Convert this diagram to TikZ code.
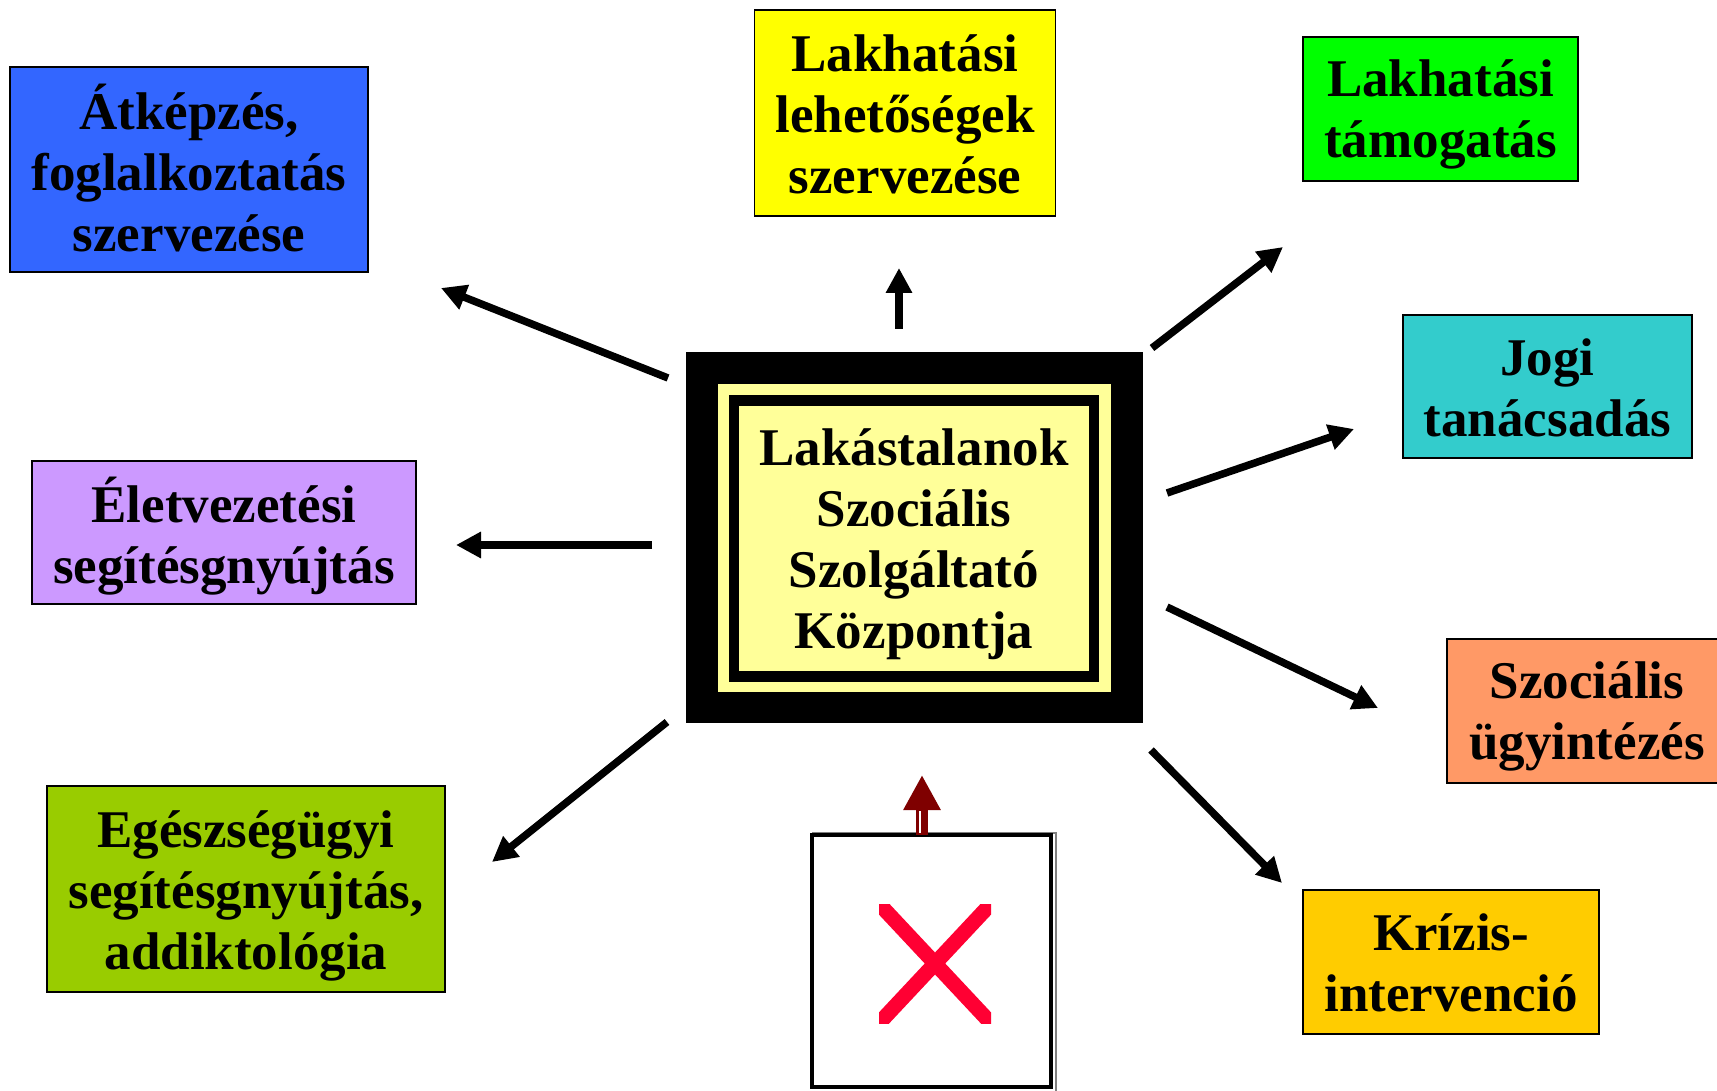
\documentclass[tikz,border=0pt]{standalone}
\usepackage{fontspec}
\setmainfont{Liberation Serif}
\usetikzlibrary{arrows.meta}

\definecolor{cblue}{HTML}{3366FF}
\definecolor{cyellow}{HTML}{FFFF00}
\definecolor{cgreen}{HTML}{00FF00}
\definecolor{ccyan}{HTML}{33CCCC}
\definecolor{corange}{HTML}{FF9966}
\definecolor{cgold}{HTML}{FFCC00}
\definecolor{colive}{HTML}{99CC00}
\definecolor{cviolet}{HTML}{CC99FF}
\definecolor{hubyellow}{HTML}{FFFF99}
\definecolor{xred}{HTML}{FF0033}
\definecolor{darkred}{HTML}{7F0000}

\tikzset{
  infobox/.style={draw=black, line width=1.5pt, inner sep=0pt},
  label text/.style={inner sep=0pt, align=center,
    font=\fontsize{53}{61}\selectfont\bfseries},
  frame/.style={inner sep=0pt},
  arr/.style={line width=7.5pt, -{Triangle[length=25pt,width=25pt]}},
}

\begin{document}
\begin{tikzpicture}[x=1pt,y=-1pt]
\useasboundingbox (0,0) rectangle (1717,1091);
\clip (0,0) rectangle (1717,1091);
\fill[white] (0,0) rectangle (1717,1091);

% central service centre with its double frame
\node[frame, fill=black, minimum width=457pt, minimum height=371pt] (hubout) at (914.5,537.5) {};
\node[frame, fill=hubyellow, minimum width=393pt, minimum height=308pt] (hubband) at (914.5,538) {};
\node[frame, fill=black, minimum width=370pt, minimum height=287pt] (hubline) at (914,538.5) {};
\node[frame, fill=hubyellow, minimum width=350pt, minimum height=265pt] (hub) at (914,538.5) {};
\node[label text] at ([yshift=-6pt]hub.center) {Lakástalanok\\Szociális\\Szolgáltató\\Központja};

% service boxes
\node[infobox, fill=cblue, minimum width=358pt, minimum height=205pt] (retrain) at (189,169.5) {};
\node[label text] at ([yshift=1.5pt]retrain.center) {Átképzés,\\foglalkoztatás\\szervezése};

\node[infobox, fill=cyellow, minimum width=301pt, minimum height=206pt] (housing) at (905,113) {};
\node[label text] at ([yshift=-1.6pt]housing.center) {Lakhatási\\lehetőségek\\szervezése};

\node[infobox, fill=cgreen, minimum width=275pt, minimum height=144pt] (support) at (1440.5,109) {};
\node[label text] at ([yshift=-5.5pt]support.center) {Lakhatási\\támogatás};

\node[infobox, fill=ccyan, minimum width=289pt, minimum height=143pt] (legal) at (1547.5,386.5) {};
\node[label text] at ([yshift=-1.6pt]legal.center) {Jogi\\tanácsadás};

\node[infobox, fill=corange, minimum width=280pt, minimum height=144pt] (social) at (1587,711) {};
\node[label text] at ([yshift=-5.5pt]social.center) {Szociális\\ügyintézés};

\node[infobox, fill=cgold, minimum width=296pt, minimum height=144pt] (crisis) at (1451,962) {};
\node[label text] at ([yshift=-0.5pt]crisis.center) {Krízis-\\intervenció};

\node[infobox, fill=colive, minimum width=398pt, minimum height=206pt] (health) at (246,889) {};
\node[label text] at ([yshift=-6.5pt]health.center) {Egészségügyi\\segítésgnyújtás,\\addiktológia};

\node[infobox, fill=cviolet, minimum width=384pt, minimum height=143pt] (life) at (224,532.5) {};
\node[label text] at ([yshift=-3.3pt]life.center) {Életvezetési\\segítésgnyújtás};

% arrow end points
\coordinate (s1) at (668,378);  \coordinate (e1) at (441,288);
\coordinate (s2) at (652,545);  \coordinate (e2) at (456,545);
\coordinate (s3) at (667,722);  \coordinate (e3) at (492,862);
\coordinate (s4) at (899,329);  \coordinate (e4) at (899,268);
\coordinate (s5) at (1152,348); \coordinate (e5) at (1283,247);
\coordinate (s6) at (1167,493); \coordinate (e6) at (1354,429);
\coordinate (s7) at (1167,607); \coordinate (e7) at (1378,708);
\coordinate (s8) at (1151,750); \coordinate (e8) at (1282,883);

\draw[arr] (s1) -- (e1);
\draw[arr] (s2) -- (e2);
\draw[arr] (s3) -- (e3);
\draw[arr] (s4) -- (e4);
\draw[arr] (s5) -- (e5);
\draw[arr] (s6) -- (e6);
\draw[arr] (s7) -- (e7);
\draw[arr] (s8) -- (e8);

% picture frame with the crossed-out image
\draw[gray, line width=1.5pt] (812,833) -- (1056,833) -- (1056,1091);
\draw[black, line width=3.5pt] (812,835) rectangle (1051,1087);
\begin{scope}
  \clip (879,904) rectangle (991,1023);
  \draw[xred, line width=15pt] (869,893) -- (1001,1034);
  \draw[xred, line width=15pt] (1001,893) -- (869,1034);
\end{scope}

% upward arrow from the frame
\coordinate (rs) at (922,835);
\coordinate (re) at (922,775);
\draw[darkred, line width=12pt, -{Triangle[length=35pt,width=35pt]}] (rs) -- (re);
\draw[white, line width=2pt] (919.5,811) -- (919.5,833);
\end{tikzpicture}
\end{document}
